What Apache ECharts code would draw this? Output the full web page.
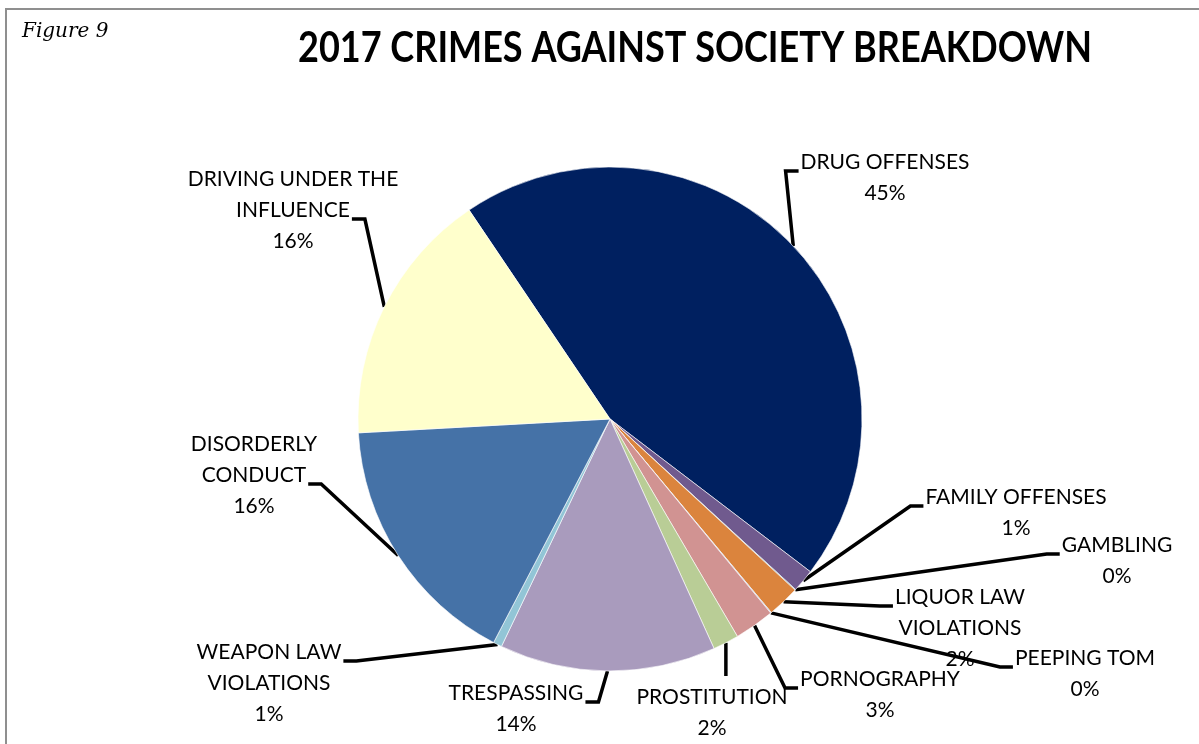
<!DOCTYPE html>
<html>
<head>
<meta charset="utf-8">
<script src="https://cdn.jsdelivr.net/npm/echarts@6/dist/echarts.min.js"></script>
<style>
  html, body { margin: 0; padding: 0; background: #fff; }
  #chart { width: 1199px; height: 744px; }
</style>
</head>
<body>
<div id="chart"></div>
<script>
// Offense categories, clockwise from the top-left
const categories = [
  'DRUG OFFENSES',
  'FAMILY OFFENSES',
  'GAMBLING',
  'LIQUOR LAW\nVIOLATIONS',
  'PEEPING TOM',
  'PORNOGRAPHY',
  'PROSTITUTION',
  'TRESPASSING',
  'WEAPON LAW\nVIOLATIONS',
  'DISORDERLY\nCONDUCT',
  'DRIVING UNDER THE\nINFLUENCE'
];
// Offense counts for 2017
const offenseCounts = [889, 29, 1, 41, 1, 51, 33, 275, 11, 327, 326];
const sliceColors = [
  '#002060', '#705A8E', '#4198AF', '#DB843D', '#93A9CF', '#D19392',
  '#B9CD96', '#A99BBD', '#92C5D6', '#4572A7', '#FFFFCC'
];

// Label placement: top-centre of each text block, and which side / row the leader attaches to
const labelSpots = [
  [885, 147], [1016, 482], [1117, 530], [960, 582], [1085, 643], [880, 664],
  [712, 682], [516, 678], [269, 637], [254, 429], [293, 164]
];
const labelHooks = [
  ['L', 0], ['L', 0], ['L', 0], ['L', 0], ['L', 0], ['L', 0],
  ['T', 0], ['R', 0], ['R', 0], ['R', 1], ['R', 1]
];

const LABEL_FONT_SIZE = 21;
const LABEL_LINE_H = 31;
const LABEL_FONT_FAMILY = 'Lato';

const TITLE_TEXT = '2017 CRIMES AGAINST SOCIETY BREAKDOWN';
const TITLE_FONT = 'bold 42px Lato';
const TITLE_WIDTH = 794;

const total = offenseCounts.reduce((a, b) => a + b, 0);
const measureCtx = document.createElement('canvas').getContext('2d');
function textWidth(text, font) {
  measureCtx.font = font;
  return measureCtx.measureText(text).width;
}
function rowWidth(text) { return textWidth(text, LABEL_FONT_SIZE + 'px ' + LABEL_FONT_FAMILY); }
function labelText(i) {
  return categories[i] + '\n' + Math.round(offenseCounts[i] / total * 100) + '%';
}
// Condensed heading: squeeze the bold face horizontally to the heading width
const titleScaleX = TITLE_WIDTH / textWidth(TITLE_TEXT, TITLE_FONT);

const chart = echarts.init(document.getElementById('chart'), null, { renderer: 'canvas' });

chart.setOption({
  backgroundColor: '#ffffff',
  animation: false,
  graphic: [
    {
      type: 'rect',
      silent: true,
      shape: { x: 6, y: 9, width: 1300, height: 900 },
      style: { fill: 'none', stroke: '#8f8f8f', lineWidth: 2 }
    },
    {
      type: 'text',
      x: 22, y: 42,
      style: {
        text: 'Figure 9',
        font: 'italic 20px "DejaVu Serif"',
        fill: '#000',
        textAlign: 'left',
        textVerticalAlign: 'bottom'
      }
    },
    {
      type: 'text',
      x: 695, y: 48,
      scaleX: titleScaleX,
      style: {
        text: TITLE_TEXT,
        font: TITLE_FONT,
        fill: '#000',
        textAlign: 'center',
        textVerticalAlign: 'middle'
      }
    }
  ],
  series: [{
    type: 'pie',
    center: [610, 419],
    radius: 252,
    startAngle: 124,
    clockwise: true,
    avoidLabelOverlap: false,
    itemStyle: { borderColor: '#ffffff', borderWidth: 0.6 },
    label: {
      show: true,
      position: 'outside',
      formatter: p => labelText(p.dataIndex),
      fontFamily: LABEL_FONT_FAMILY,
      fontSize: LABEL_FONT_SIZE,
      lineHeight: LABEL_LINE_H,
      color: '#000',
      align: 'center'
    },
    labelLine: {
      show: true,
      smooth: false,
      lineStyle: { color: '#000', width: 3.5 }
    },
    labelLayout: function (params) {
      const i = params.dataIndex;
      const spot = labelSpots[i];
      const hook = labelHooks[i];
      const start = params.labelLinePoints ? params.labelLinePoints[0] : [spot[0], spot[1]];
      const rows = labelText(i).split('\n');
      let end, elbow;
      if (hook[0] === 'T') {
        end = [start[0], spot[1] - 6];
        elbow = [start[0], (start[1] + end[1]) / 2];
      } else {
        const w = rowWidth(rows[hook[1]]);
        const y = spot[1] + hook[1] * LABEL_LINE_H + 24;
        if (hook[0] === 'L') {
          end = [spot[0] - w / 2 - 2, y];
          elbow = [end[0] - 13, y];
        } else {
          end = [spot[0] + w / 2 + 2, y];
          elbow = [end[0] + 13, y];
        }
      }
      return {
        x: spot[0],
        y: spot[1],
        align: 'center',
        verticalAlign: 'top',
        labelLinePoints: [start, elbow, end]
      };
    },
    data: categories.map((name, i) => ({
      name: name,
      value: offenseCounts[i],
      itemStyle: { color: sliceColors[i] }
    }))
  }]
});
</script>
</body>
</html>
